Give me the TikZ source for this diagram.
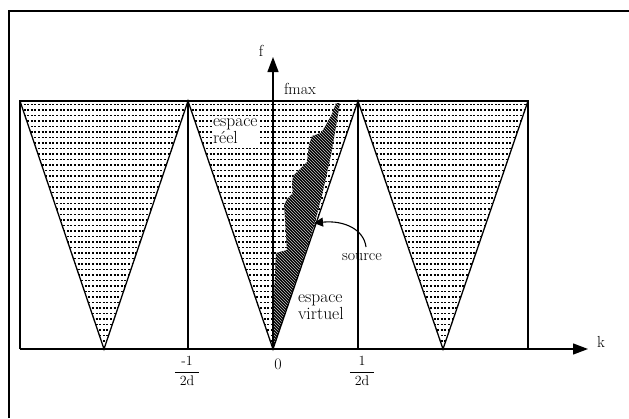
\documentclass[tikz,border=0pt]{standalone}
\usetikzlibrary{arrows.meta,patterns}
\begin{document}
\begin{tikzpicture}[x=1pt,y=-1pt,
  lbl/.style={font=\fontsize{16}{16}\selectfont, inner sep=0pt},
  biglbl/.style={font=\fontsize{17.5}{15.5}\selectfont, inner sep=0.8pt, fill=white},
  fraclbl/.style={font=\fontsize{14}{14}\selectfont, inner sep=0pt},
  edge/.style={line width=1.3pt, line join=miter},
  axisline/.style={line width=1.3pt,-{Triangle[length=15pt,width=11pt]}},
  dotrow/.style={line width=1.3pt, dash pattern=on 2pt off 1.6pt}]
\useasboundingbox (0,0) rectangle (629,418);
\fill[white] (0,0) rectangle (629,418);
% frame
\draw[line width=1.4pt] (9,418) -- (9,11) -- (629,11);
% dotted fill of the three triangles
\foreach \l/\a/\r in {20/104/188, 188/273/358, 358/443/528}{
  \begin{scope}
    \clip (\l,101) -- (\r,101) -- (\a,349) -- cycle;
    \foreach \y in {104.5,110,...,347} \draw[dotrow] (\l,\y) -- (\r,\y);
  \end{scope}
}
% labels inside the dotted area (white behind the letters)
\node[biglbl, anchor=west, align=left] (reel) at (212,131) {espace\\r\'eel};
% source shape
\path[fill=black]
  (273,349) -- (314,226) -- (322,195) -- (331,155) -- (340,103) -- (336,103)
  -- (332,114) -- (326,125) -- (321,133) -- (312,136) -- (309,145) -- (307,162)
  -- (301,168) -- (293,176) -- (292,185) -- (293,193) -- (287,199) -- (284,205)
  -- (285,218) -- (287,250) -- (276,253) -- (274,300) -- cycle;
\path[pattern=north west lines, pattern color=gray!45]
  (273,349) -- (314,226) -- (322,195) -- (331,155) -- (340,103) -- (336,103)
  -- (332,114) -- (326,125) -- (321,133) -- (312,136) -- (309,145) -- (307,162)
  -- (301,168) -- (293,176) -- (292,185) -- (293,193) -- (287,199) -- (284,205)
  -- (285,218) -- (287,250) -- (276,253) -- (274,300) -- cycle;
% coordinates
\coordinate (TL) at (20,101);
\coordinate (BL) at (20,349);
\coordinate (TR) at (528,101);
\coordinate (BR) at (528,349);
\coordinate (M1) at (188,101);
\coordinate (P1) at (358,101);
\coordinate (A1) at (104,349);
\coordinate (A2) at (273,349);
\coordinate (A3) at (443,349);
\coordinate (M1b) at (188,349);
\coordinate (P1b) at (358,349);
\coordinate (ktip) at (588,349);
\coordinate (ftip) at (273,57);
% rectangle and triangles
\draw[edge] (BL) -- (TL) -- (TR) -- (BR);
\draw[edge] (M1) -- (M1b);
\draw[edge] (P1) -- (P1b);
\draw[edge] (TL) -- (A1) -- (M1) -- (A2) -- (P1) -- (A3) -- (TR);
% axes
\draw[axisline] (BL) -- (ktip);
\draw[axisline] (A2) -- (ftip);
% labels
\node[lbl] (f) at (261,51) {f};
\node[lbl] (k) at (601,342) {k};
\node[lbl] (fmax) at (300,89) {fmax};
\node[biglbl, fill=none, anchor=west, align=left] (virt) at (297,307) {espace\\virtuel};
\node[lbl] (source) at (362,257) {source};
\node[lbl] (zero) at (278,364) {0};
\node[fraclbl] (mhalf) at (187,371) {$\displaystyle\frac{\mbox{\hspace{5pt}-1\hspace{5pt}}}{\mbox{\hspace{5pt}2d\hspace{5pt}}}$};
\node[fraclbl] (phalf) at (362,371) {$\displaystyle\frac{\mbox{\hspace{5pt}1\hspace{5pt}}}{\mbox{\hspace{5pt}2d\hspace{5pt}}}$};
% source arrow
\coordinate (s0) at (366,247);
\coordinate (s1) at (314,223);
\draw[line width=1.1pt, -{Triangle[length=9pt,width=9pt]}] (s0) .. controls (364,230) and (345,220) .. (s1);
\end{tikzpicture}
\end{document}
